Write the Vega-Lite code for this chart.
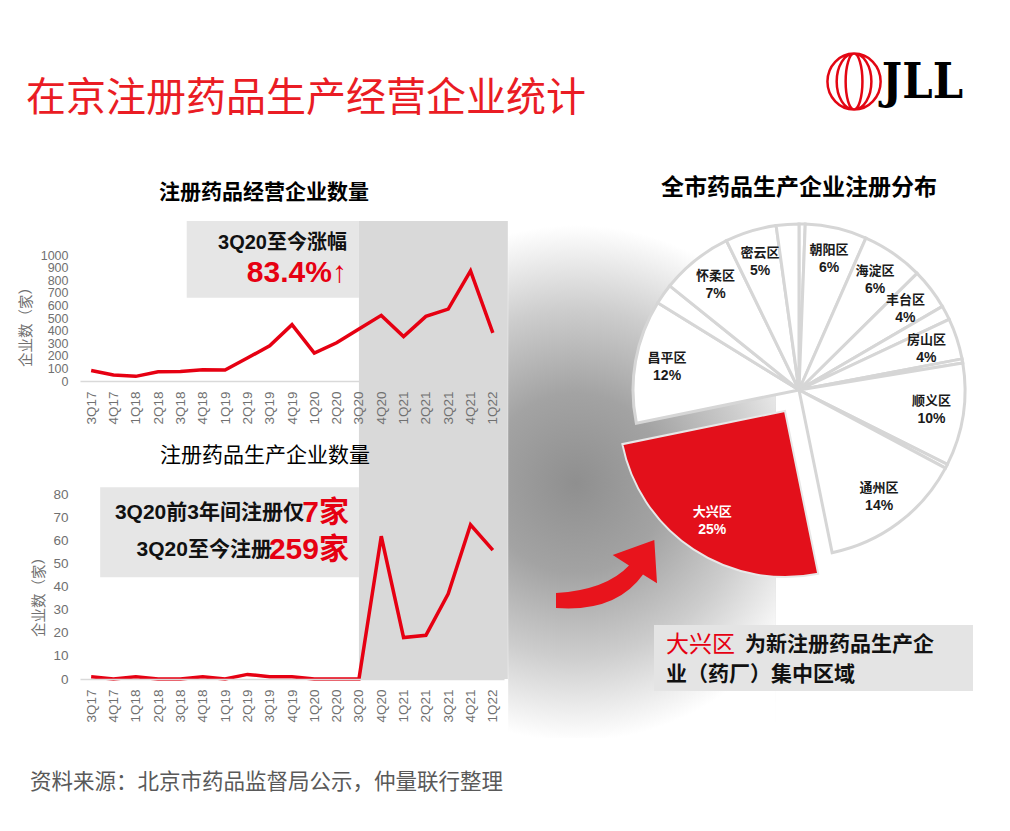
{
  "$schema": "https://vega.github.io/schema/vega-lite/v6.json",
  "padding": {"left": 18, "top": 48, "right": 10, "bottom": 5},
  "background": "white",
  "config": {
    "view": {"stroke": null},
    "font": "Noto Sans CJK SC",
    "axis": {"grid": false, "ticks": false, "labelFont": "Liberation Sans", "labelFontSize": 13.5, "labelColor": "#707070", "titleFont": "Noto Sans CJK SC", "titleFontSize": 14.5, "titleColor": "#707070", "titleFontWeight": "normal", "domainColor": "#d9d9d9", "domainWidth": 1.5, "labelOverlap": false},
    "title": {"font": "Noto Sans CJK SC", "color": "#000000"}
  },
  "datasets": {
    "quarters": [
      {"q": "3Q17", "ops": 84, "mfg": 1},
      {"q": "4Q17", "ops": 47, "mfg": 0},
      {"q": "1Q18", "ops": 37, "mfg": 1},
      {"q": "2Q18", "ops": 74, "mfg": 0},
      {"q": "3Q18", "ops": 76, "mfg": 0},
      {"q": "4Q18", "ops": 89, "mfg": 1},
      {"q": "1Q19", "ops": 87, "mfg": 0},
      {"q": "2Q19", "ops": 182, "mfg": 2},
      {"q": "3Q19", "ops": 279, "mfg": 1},
      {"q": "4Q19", "ops": 447, "mfg": 1},
      {"q": "1Q20", "ops": 221, "mfg": 0},
      {"q": "2Q20", "ops": 303, "mfg": 0},
      {"q": "3Q20", "ops": 413, "mfg": 0},
      {"q": "4Q20", "ops": 521, "mfg": 62},
      {"q": "1Q21", "ops": 353, "mfg": 18},
      {"q": "2Q21", "ops": 513, "mfg": 19},
      {"q": "3Q21", "ops": 571, "mfg": 37},
      {"q": "4Q21", "ops": 874, "mfg": 67},
      {"q": "1Q22", "ops": 382, "mfg": 56}
    ],
    "districts": [
      {"district": "其他a", "share": 0.006, "ord": 1},
      {"district": "朝阳区", "share": 0.06, "ord": 2},
      {"district": "海淀区", "share": 0.06, "ord": 3},
      {"district": "丰台区", "share": 0.04, "ord": 4},
      {"district": "其他b", "share": 0.014, "ord": 5},
      {"district": "房山区", "share": 0.04, "ord": 6},
      {"district": "其他c", "share": 0.004, "ord": 7},
      {"district": "顺义区", "share": 0.10, "ord": 8},
      {"district": "其他d", "share": 0.004, "ord": 9},
      {"district": "通州区", "share": 0.14, "ord": 10},
      {"district": "大兴区", "share": 0.25, "ord": 11},
      {"district": "昌平区", "share": 0.12, "ord": 12},
      {"district": "其他e", "share": 0.02, "ord": 13},
      {"district": "怀柔区", "share": 0.07, "ord": 14},
      {"district": "密云区", "share": 0.05, "ord": 15},
      {"district": "其他f", "share": 0.022, "ord": 16}
    ]
  },
  "spacing": 58,
  "vconcat": [
    {
      "width": 883,
      "height": 60,
      "layer": [
        {
          "data": {"values": [{"t": "在京注册药品生产经营企业统计"}]},
          "mark": {"type": "text", "align": "left", "baseline": "middle", "dx": -54, "font": "Noto Sans CJK SC", "fontSize": 40, "color": "#ea1c24"},
          "encoding": {
            "x": {"datum": 0, "type": "quantitative", "scale": {"domain": [0, 1]}, "axis": null},
            "y": {"datum": 0.2, "type": "quantitative", "scale": {"domain": [0, 1]}, "axis": null},
            "text": {"field": "t"}
          }
        },
        {
          "data": {"values": [{"brand": "JLL"}]},
          "mark": {"type": "point", "shape": "M-0.95,0 A0.95,1 0 1,0 0.95,0 A0.95,1 0 1,0 -0.95,0 M-0.62,0 A0.62,1 0 1,0 0.62,0 A0.62,1 0 1,0 -0.62,0 M-0.3,0 A0.3,1 0 1,0 0.3,0 A0.3,1 0 1,0 -0.3,0", "size": 3136, "filled": false, "color": "#e30613", "strokeWidth": 2.5, "opacity": 1},
          "encoding": {
            "x": {"datum": 0.8766, "type": "quantitative", "scale": {"domain": [0, 1]}, "axis": null},
            "y": {"datum": 0.49, "type": "quantitative", "scale": {"domain": [0, 1]}, "axis": null}
          }
        },
        {
          "data": {"values": [{"brand": "JLL"}]},
          "mark": {"type": "text", "align": "right", "baseline": "middle", "font": "DejaVu Serif Condensed", "fontWeight": "bold", "fontSize": 48, "color": "#000000"},
          "encoding": {
            "x": {"datum": 1, "type": "quantitative", "scale": {"domain": [0, 1]}, "axis": null},
            "y": {"datum": 0.45, "type": "quantitative", "scale": {"domain": [0, 1]}, "axis": null},
            "text": {"field": "brand"}
          }
        }
      ]
    },
    {
      "spacing": 0,
      "title": {"text": "资料来源：北京市药品监督局公示，仲量联行整理", "orient": "bottom", "anchor": "start", "fontSize": 21.5, "fontWeight": "normal", "color": "#595959", "font": "Noto Sans CJK SC", "offset": 34, "dx": 12},
      "hconcat": [
        {
          "spacing": 62,
          "bounds": "flush",
          "vconcat": [
            {
              "width": 424,
              "height": 160,
              "title": {"text": "注册药品经营企业数量", "fontSize": 21, "fontWeight": "bold", "offset": 18, "dx": -28},
              "layer": [
                {
                  "data": {"values": [{"period": "3Q20至今"}]},
                  "mark": {"type": "rect", "color": "#d9d9d9", "x2Offset": 15},
                  "encoding": {
                    "x": {"datum": "3Q20", "type": "ordinal", "scale": {"type": "point", "padding": 0.5, "domain": ["3Q17","4Q17","1Q18","2Q18","3Q18","4Q18","1Q19","2Q19","3Q19","4Q19","1Q20","2Q20","3Q20","4Q20","1Q21","2Q21","3Q21","4Q21","1Q22"]}, "axis": {"title": null, "labelAngle": -90, "labelPadding": 10, "zindex": 1}},
                    "x2": {"datum": "1Q22"},
                    "y": {"datum": 1270, "type": "quantitative", "scale": {"domain": [0, 1270], "nice": false, "zero": false}, "axis": {"values": [0,100,200,300,400,500,600,700,800,900,1000], "format": "d", "labelFontSize": 12.5, "domain": false, "labelPadding": 12, "labelOverlap": false, "title": "企业数（家）", "titleX": -47, "titleY": 102}},
                    "y2": {"datum": -492}
                  }
                },
                {
                  "data": {"values": [{"note": "3Q20至今涨幅"}]},
                  "mark": {"type": "rect", "color": "#e6e6e6", "xOffset": -16},
                  "encoding": {
                    "x": {"datum": "4Q18", "type": "ordinal", "scale": {"type": "point", "padding": 0.5, "domain": ["3Q17","4Q17","1Q18","2Q18","3Q18","4Q18","1Q19","2Q19","3Q19","4Q19","1Q20","2Q20","3Q20","4Q20","1Q21","2Q21","3Q21","4Q21","1Q22"]}, "axis": {"title": null, "labelAngle": -90, "labelPadding": 10, "zindex": 1}},
                    "x2": {"datum": "3Q20"},
                    "y": {"datum": 660, "type": "quantitative", "scale": {"domain": [0, 1270], "nice": false, "zero": false}, "axis": {"values": [0,100,200,300,400,500,600,700,800,900,1000], "format": "d", "labelFontSize": 12.5, "domain": false, "labelPadding": 12, "labelOverlap": false, "title": "企业数（家）", "titleX": -47, "titleY": 102}},
                    "y2": {"datum": 1270}
                  }
                },
                {
                  "data": {"name": "quarters"},
                  "mark": {"type": "line", "color": "#e60012", "strokeWidth": 3.5},
                  "encoding": {
                    "x": {"field": "q", "type": "ordinal", "sort": null, "scale": {"type": "point", "padding": 0.5, "domain": ["3Q17","4Q17","1Q18","2Q18","3Q18","4Q18","1Q19","2Q19","3Q19","4Q19","1Q20","2Q20","3Q20","4Q20","1Q21","2Q21","3Q21","4Q21","1Q22"]}, "axis": {"title": null, "labelAngle": -90, "labelPadding": 10, "zindex": 1}},
                    "y": {"field": "ops", "type": "quantitative", "scale": {"domain": [0, 1270], "nice": false, "zero": false}, "axis": {"values": [0,100,200,300,400,500,600,700,800,900,1000], "format": "d", "labelFontSize": 12.5, "domain": false, "labelPadding": 12, "labelOverlap": false, "title": "企业数（家）", "titleX": -47, "titleY": 102}}
                  }
                },
                {
                  "data": {"values": [{"t": "3Q20至今涨幅"}]},
                  "mark": {"type": "text", "align": "right", "baseline": "middle", "dx": -12, "font": "Liberation Sans, Noto Sans CJK SC", "fontWeight": "bold", "fontSize": 20, "color": "#111111"},
                  "encoding": {
                    "x": {"datum": "3Q20", "type": "ordinal", "scale": {"type": "point", "padding": 0.5, "domain": ["3Q17","4Q17","1Q18","2Q18","3Q18","4Q18","1Q19","2Q19","3Q19","4Q19","1Q20","2Q20","3Q20","4Q20","1Q21","2Q21","3Q21","4Q21","1Q22"]}, "axis": {"title": null, "labelAngle": -90, "labelPadding": 10, "zindex": 1}},
                    "y": {"datum": 1095, "type": "quantitative", "scale": {"domain": [0, 1270], "nice": false, "zero": false}, "axis": {"values": [0,100,200,300,400,500,600,700,800,900,1000], "format": "d", "labelFontSize": 12.5, "domain": false, "labelPadding": 12, "labelOverlap": false, "title": "企业数（家）", "titleX": -47, "titleY": 102}},
                    "text": {"field": "t"}
                  }
                },
                {
                  "data": {"values": [{"t": "83.4%↑"}]},
                  "mark": {"type": "text", "align": "right", "baseline": "middle", "dx": -12, "font": "Liberation Sans, Noto Sans CJK SC", "fontWeight": "bold", "fontSize": 30, "color": "#e60012"},
                  "encoding": {
                    "x": {"datum": "3Q20", "type": "ordinal", "scale": {"type": "point", "padding": 0.5, "domain": ["3Q17","4Q17","1Q18","2Q18","3Q18","4Q18","1Q19","2Q19","3Q19","4Q19","1Q20","2Q20","3Q20","4Q20","1Q21","2Q21","3Q21","4Q21","1Q22"]}, "axis": {"title": null, "labelAngle": -90, "labelPadding": 10, "zindex": 1}},
                    "y": {"datum": 857, "type": "quantitative", "scale": {"domain": [0, 1270], "nice": false, "zero": false}, "axis": {"values": [0,100,200,300,400,500,600,700,800,900,1000], "format": "d", "labelFontSize": 12.5, "domain": false, "labelPadding": 12, "labelOverlap": false, "title": "企业数（家）", "titleX": -47, "titleY": 102}},
                    "text": {"field": "t"}
                  }
                }
              ]
            },
            {
              "width": 424,
              "height": 236,
              "title": {"text": "注册药品生产企业数量", "fontSize": 21, "fontWeight": "normal", "offset": -23, "dx": -27},
              "layer": [
                {
                  "data": {"values": [{"period": "3Q20至今"}]},
                  "mark": {"type": "rect", "color": "#d9d9d9", "x2Offset": 15},
                  "encoding": {
                    "x": {"datum": "3Q20", "type": "ordinal", "scale": {"type": "point", "padding": 0.5, "domain": ["3Q17","4Q17","1Q18","2Q18","3Q18","4Q18","1Q19","2Q19","3Q19","4Q19","1Q20","2Q20","3Q20","4Q20","1Q21","2Q21","3Q21","4Q21","1Q22"]}, "axis": {"title": null, "labelAngle": -90, "labelPadding": 10}},
                    "x2": {"datum": "1Q22"},
                    "y": {"datum": 102.5, "type": "quantitative", "scale": {"domain": [0, 102.5], "nice": false, "zero": false}, "axis": {"values": [0,10,20,30,40,50,60,70,80], "domain": false, "labelPadding": 12, "labelOverlap": false, "title": "企业数（家）", "titleX": -34, "titleY": 150}},
                    "y2": {"datum": 0}
                  }
                },
                {
                  "data": {"values": [{"note": "3Q20前后对比"}]},
                  "mark": {"type": "rect", "color": "#e6e6e6", "xOffset": 9},
                  "encoding": {
                    "x": {"datum": "3Q17", "type": "ordinal", "scale": {"type": "point", "padding": 0.5, "domain": ["3Q17","4Q17","1Q18","2Q18","3Q18","4Q18","1Q19","2Q19","3Q19","4Q19","1Q20","2Q20","3Q20","4Q20","1Q21","2Q21","3Q21","4Q21","1Q22"]}, "axis": {"title": null, "labelAngle": -90, "labelPadding": 10}},
                    "x2": {"datum": "3Q20"},
                    "y": {"datum": 83.3, "type": "quantitative", "scale": {"domain": [0, 102.5], "nice": false, "zero": false}, "axis": {"values": [0,10,20,30,40,50,60,70,80], "domain": false, "labelPadding": 12, "labelOverlap": false, "title": "企业数（家）", "titleX": -34, "titleY": 150}},
                    "y2": {"datum": 44.2}
                  }
                },
                {
                  "data": {"name": "quarters"},
                  "mark": {"type": "line", "color": "#e60012", "strokeWidth": 3.5},
                  "encoding": {
                    "x": {"field": "q", "type": "ordinal", "sort": null, "scale": {"type": "point", "padding": 0.5, "domain": ["3Q17","4Q17","1Q18","2Q18","3Q18","4Q18","1Q19","2Q19","3Q19","4Q19","1Q20","2Q20","3Q20","4Q20","1Q21","2Q21","3Q21","4Q21","1Q22"]}, "axis": {"title": null, "labelAngle": -90, "labelPadding": 10}},
                    "y": {"field": "mfg", "type": "quantitative", "scale": {"domain": [0, 102.5], "nice": false, "zero": false}, "axis": {"values": [0,10,20,30,40,50,60,70,80], "domain": false, "labelPadding": 12, "labelOverlap": false, "title": "企业数（家）", "titleX": -34, "titleY": 150}}
                  }
                },
                {
                  "data": {"values": [{"t": "3Q20前3年间注册仅"}]},
                  "mark": {"type": "text", "align": "right", "baseline": "middle", "dx": -55, "font": "Liberation Sans, Noto Sans CJK SC", "fontWeight": "bold", "fontSize": 21, "color": "#111111"},
                  "encoding": {
                    "x": {"datum": "3Q20", "type": "ordinal", "scale": {"type": "point", "padding": 0.5, "domain": ["3Q17","4Q17","1Q18","2Q18","3Q18","4Q18","1Q19","2Q19","3Q19","4Q19","1Q20","2Q20","3Q20","4Q20","1Q21","2Q21","3Q21","4Q21","1Q22"]}, "axis": {"title": null, "labelAngle": -90, "labelPadding": 10}},
                    "y": {"datum": 72, "type": "quantitative", "scale": {"domain": [0, 102.5], "nice": false, "zero": false}, "axis": {"values": [0,10,20,30,40,50,60,70,80], "domain": false, "labelPadding": 12, "labelOverlap": false, "title": "企业数（家）", "titleX": -34, "titleY": 150}},
                    "text": {"field": "t"}
                  }
                },
                {
                  "data": {"values": [{"t": "7家"}]},
                  "mark": {"type": "text", "align": "right", "baseline": "middle", "dx": -10, "font": "Liberation Sans, Noto Sans CJK SC", "fontWeight": "bold", "fontSize": 30, "color": "#e60012"},
                  "encoding": {
                    "x": {"datum": "3Q20", "type": "ordinal", "scale": {"type": "point", "padding": 0.5, "domain": ["3Q17","4Q17","1Q18","2Q18","3Q18","4Q18","1Q19","2Q19","3Q19","4Q19","1Q20","2Q20","3Q20","4Q20","1Q21","2Q21","3Q21","4Q21","1Q22"]}, "axis": {"title": null, "labelAngle": -90, "labelPadding": 10}},
                    "y": {"datum": 72, "type": "quantitative", "scale": {"domain": [0, 102.5], "nice": false, "zero": false}, "axis": {"values": [0,10,20,30,40,50,60,70,80], "domain": false, "labelPadding": 12, "labelOverlap": false, "title": "企业数（家）", "titleX": -34, "titleY": 150}},
                    "text": {"field": "t"}
                  }
                },
                {
                  "data": {"values": [{"t": "3Q20至今注册"}]},
                  "mark": {"type": "text", "align": "right", "baseline": "middle", "dx": -87, "font": "Liberation Sans, Noto Sans CJK SC", "fontWeight": "bold", "fontSize": 21, "color": "#111111"},
                  "encoding": {
                    "x": {"datum": "3Q20", "type": "ordinal", "scale": {"type": "point", "padding": 0.5, "domain": ["3Q17","4Q17","1Q18","2Q18","3Q18","4Q18","1Q19","2Q19","3Q19","4Q19","1Q20","2Q20","3Q20","4Q20","1Q21","2Q21","3Q21","4Q21","1Q22"]}, "axis": {"title": null, "labelAngle": -90, "labelPadding": 10}},
                    "y": {"datum": 56, "type": "quantitative", "scale": {"domain": [0, 102.5], "nice": false, "zero": false}, "axis": {"values": [0,10,20,30,40,50,60,70,80], "domain": false, "labelPadding": 12, "labelOverlap": false, "title": "企业数（家）", "titleX": -34, "titleY": 150}},
                    "text": {"field": "t"}
                  }
                },
                {
                  "data": {"values": [{"t": "259家"}]},
                  "mark": {"type": "text", "align": "right", "baseline": "middle", "dx": -10, "font": "Liberation Sans, Noto Sans CJK SC", "fontWeight": "bold", "fontSize": 30, "color": "#e60012"},
                  "encoding": {
                    "x": {"datum": "3Q20", "type": "ordinal", "scale": {"type": "point", "padding": 0.5, "domain": ["3Q17","4Q17","1Q18","2Q18","3Q18","4Q18","1Q19","2Q19","3Q19","4Q19","1Q20","2Q20","3Q20","4Q20","1Q21","2Q21","3Q21","4Q21","1Q22"]}, "axis": {"title": null, "labelAngle": -90, "labelPadding": 10}},
                    "y": {"datum": 56, "type": "quantitative", "scale": {"domain": [0, 102.5], "nice": false, "zero": false}, "axis": {"values": [0,10,20,30,40,50,60,70,80], "domain": false, "labelPadding": 12, "labelOverlap": false, "title": "企业数（家）", "titleX": -34, "titleY": 150}},
                    "text": {"field": "t"}
                  }
                }
              ]
            }
          ]
        },
        {
          "spacing": 66,
          "bounds": "flush",
          "vconcat": [
            {
              "width": 290,
              "height": 338,
              "title": {"text": "全市药品生产企业注册分布", "fontSize": 23, "fontWeight": "bold", "frame": "group", "offset": 18},
              "layer": [
                {
                  "data": {"values": [{"effect": "shadow"}]},
                  "mark": {"type": "point", "shape": "M-0.518,-1 L0.518,-1 L0.518,1 L-0.518,1 Z", "size": 267289, "filled": true, "strokeWidth": 0, "opacity": 1, "xOffset": -157, "yOffset": 89.5,
                    "fill": {"gradient": "radial", "x1": 0.372, "y1": 0.507, "r1": 0, "x2": 0.372, "y2": 0.507, "r2": 0.58,
                      "stops": [{"offset": 0, "color": "#8f8f8f"}, {"offset": 0.3, "color": "#a3a3a3"}, {"offset": 0.58, "color": "#cdcdcd"}, {"offset": 0.78, "color": "#f1f1f1"}, {"offset": 0.86, "color": "#ffffff"}, {"offset": 1, "color": "#ffffff"}]}},
                  "encoding": {}
                },
                {
                  "data": {"values": [{"to": "大兴区"}]},
                  "mark": {"type": "point", "shape": "M-1,0.36 Q0,0.3 0.46,-0.19 L0.134,-0.4 L0.966,-0.7 L1.02,0.166 L0.74,-0.01 Q0.2,0.75 -1,0.66 Z", "size": 10000, "filled": true, "color": "#e8141c", "opacity": 1, "xOffset": -193, "yOffset": 185},
                  "encoding": {}
                },
                {
                  "data": {"name": "districts"},
                  "mark": {"type": "arc", "radius": 166, "fill": "#ffffff", "stroke": "#d6d6d6", "strokeWidth": 3},
                  "encoding": {
                    "theta": {"field": "share", "type": "quantitative", "stack": true},
                    "order": {"field": "ord", "type": "quantitative"},
                    "detail": {"field": "district"},
                    "opacity": {"condition": {"test": "datum.district === '大兴区'", "value": 0}, "value": 1}
                  }
                },
                {
                  "data": {"name": "districts"},
                  "mark": {"type": "arc", "radius": 166, "fill": "#e3101b", "stroke": "#e8e8e8", "strokeWidth": 2, "xOffset": -14, "yOffset": 21},
                  "encoding": {
                    "theta": {"field": "share", "type": "quantitative", "stack": true},
                    "order": {"field": "ord", "type": "quantitative"},
                    "detail": {"field": "district"},
                    "opacity": {"condition": {"test": "datum.district === '大兴区'", "value": 1}, "value": 0}
                  }
                },
                {
                  "data": {"name": "districts"},
                  "mark": {"type": "text", "radius": 134, "dy": -9, "font": "Noto Sans CJK SC", "fontWeight": "bold", "fontSize": 13, "color": "#1a1a1a"},
                  "encoding": {
                    "theta": {"field": "share", "type": "quantitative", "stack": true},
                    "order": {"field": "ord", "type": "quantitative"},
                    "detail": {"field": "district"},
                    "text": {"field": "district"},
                    "opacity": {"condition": {"test": "indexof(datum.district, '其他') >= 0 || datum.district === '大兴区'", "value": 0}, "value": 1}
                  }
                },
                {
                  "data": {"name": "districts"},
                  "mark": {"type": "text", "radius": 134, "dy": 9, "font": "Liberation Sans", "fontWeight": "bold", "fontSize": 14, "color": "#1a1a1a"},
                  "encoding": {
                    "theta": {"field": "share", "type": "quantitative", "stack": true},
                    "order": {"field": "ord", "type": "quantitative"},
                    "detail": {"field": "district"},
                    "text": {"field": "share", "type": "quantitative", "format": ".0%"},
                    "opacity": {"condition": {"test": "indexof(datum.district, '其他') >= 0 || datum.district === '大兴区'", "value": 0}, "value": 1}
                  }
                },
                {
                  "data": {"name": "districts"},
                  "mark": {"type": "text", "radius": 132, "dy": -9, "xOffset": -14, "yOffset": 21, "font": "Noto Sans CJK SC", "fontWeight": "bold", "fontSize": 13, "color": "#ffffff"},
                  "encoding": {
                    "theta": {"field": "share", "type": "quantitative", "stack": true},
                    "order": {"field": "ord", "type": "quantitative"},
                    "detail": {"field": "district"},
                    "text": {"field": "district"},
                    "opacity": {"condition": {"test": "datum.district === '大兴区'", "value": 1}, "value": 0}
                  }
                },
                {
                  "data": {"name": "districts"},
                  "mark": {"type": "text", "radius": 132, "dy": 9, "xOffset": -14, "yOffset": 21, "font": "Liberation Sans", "fontWeight": "bold", "fontSize": 14, "color": "#ffffff"},
                  "encoding": {
                    "theta": {"field": "share", "type": "quantitative", "stack": true},
                    "order": {"field": "ord", "type": "quantitative"},
                    "detail": {"field": "district"},
                    "text": {"field": "share", "type": "quantitative", "format": ".0%"},
                    "opacity": {"condition": {"test": "datum.district === '大兴区'", "value": 1}, "value": 0}
                  }
                }
              ]
            },
            {
              "width": 319,
              "height": 66,
              "view": {"fill": "#e4e4e4", "stroke": null},
              "layer": [
                {
                  "data": {"values": [{"t": "大兴区"}]},
                  "mark": {"type": "text", "align": "left", "baseline": "middle", "font": "Noto Sans CJK SC", "fontSize": 23, "color": "#e60012"},
                  "encoding": {
                    "x": {"datum": 0.0376, "type": "quantitative", "scale": {"domain": [0, 1]}, "axis": null},
                    "y": {"datum": 0.69, "type": "quantitative", "scale": {"domain": [0, 1]}, "axis": null},
                    "text": {"field": "t"}
                  }
                },
                {
                  "data": {"values": [{"t": "为新注册药品生产企"}]},
                  "mark": {"type": "text", "align": "left", "baseline": "middle", "font": "Noto Sans CJK SC", "fontWeight": "bold", "fontSize": 21, "color": "#111111"},
                  "encoding": {
                    "x": {"datum": 0.285, "type": "quantitative", "scale": {"domain": [0, 1]}, "axis": null},
                    "y": {"datum": 0.69, "type": "quantitative", "scale": {"domain": [0, 1]}, "axis": null},
                    "text": {"field": "t"}
                  }
                },
                {
                  "data": {"values": [{"t": "业（药厂）集中区域"}]},
                  "mark": {"type": "text", "align": "left", "baseline": "middle", "font": "Noto Sans CJK SC", "fontWeight": "bold", "fontSize": 21, "color": "#111111"},
                  "encoding": {
                    "x": {"datum": 0.0376, "type": "quantitative", "scale": {"domain": [0, 1]}, "axis": null},
                    "y": {"datum": 0.25, "type": "quantitative", "scale": {"domain": [0, 1]}, "axis": null},
                    "text": {"field": "t"}
                  }
                }
              ]
            }
          ]
        }
      ]
    }
  ]
}
